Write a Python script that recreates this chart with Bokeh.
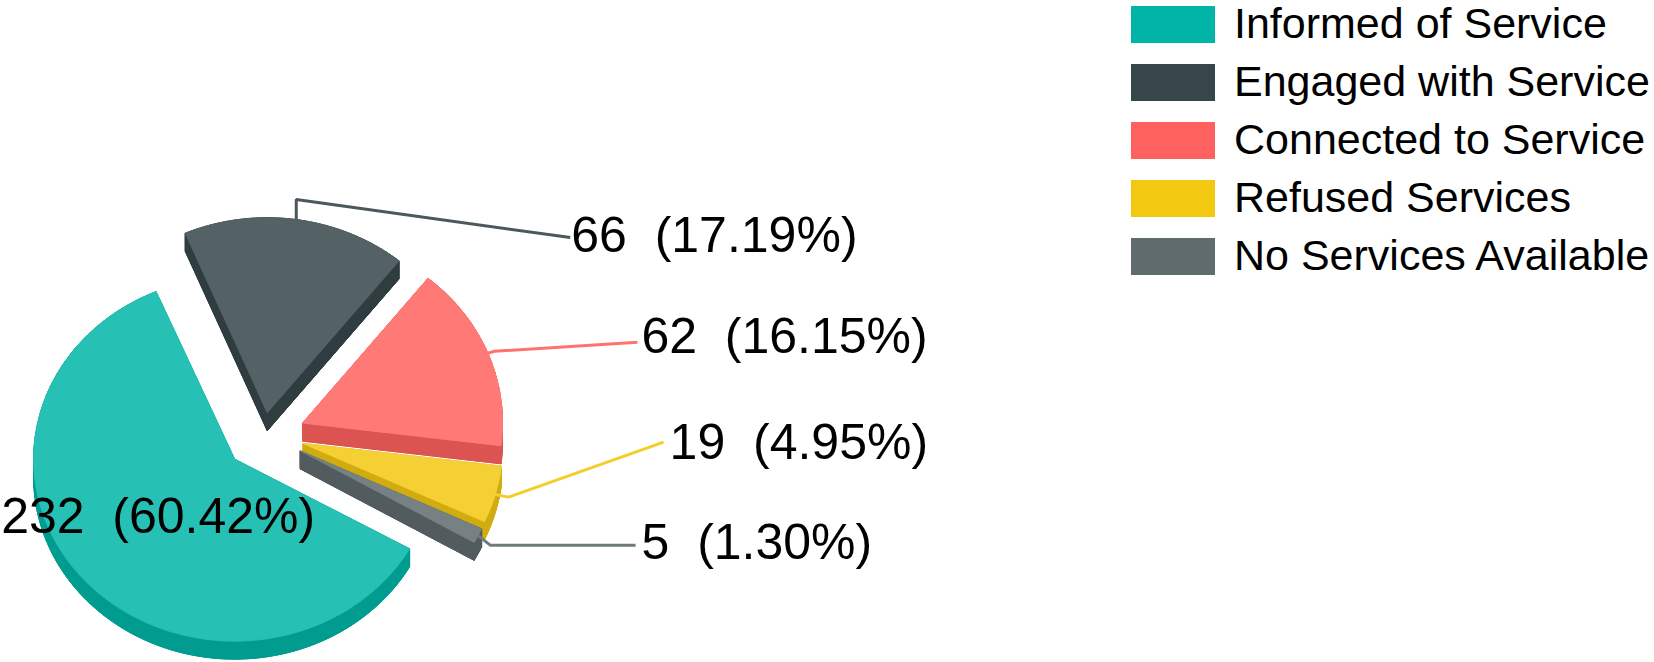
import math
from bokeh.plotting import figure
from bokeh.models import Range1d, Legend, LegendItem
from bokeh.embed import file_html
from bokeh.resources import INLINE
from bokeh.core.properties import value

# ---------------- data ----------------
categories = ["Informed of Service", "Engaged with Service", "Connected to Service",
              "Refused Services", "No Services Available"]
counts = [232, 66, 62, 19, 5]
legend_colors = ["#00B5A7", "#37464A", "#FF625E", "#F2C811", "#5F6B6D"]

# ---------------- layout / style ----------------
W, H = 1654, 662
CX, CY = 264, 432          # pie centre (page pixels)
START_DEG = -29.5          # first slice starts here, slices run clockwise
DEPTH = 18                 # extrusion depth
explode = [40, 20, 41, 40, 40]
nudge = [(0, 0), (0, 0), (0, 6), (0, 0), (0, 0)]
radius_x = [201, 210, 200, 200, 200]
radius_y = [182, 195, 186, 186, 186]
draw_order = [1, 2, 3, 4, 0]
FONT = "Liberation Sans"
LABEL_SIZE = "50px"
LEGEND_SIZE = "43px"
GAP = " \u00a0"            # the wide gap between value and percentage
# leader-line geometry relative to the computed anchor on each slice rim
leader_elbow = {1: (0, -20), 2: (6.6, -2), 3: (13.3, 2.7), 4: (12.5, 9.7)}
leader_end = {1: (274, 18), 2: (149.6, -11), 3: (168.3, -52.3), 4: (157.5, 9.7)}
text_off = {1: (1, -2.5), 2: (4, -6), 3: (6, -0.5), 4: (6, -3)}
inner_label_off = (-6, 0)


def hex2rgb(h):
    h = h.lstrip("#")
    return tuple(int(h[i:i + 2], 16) for i in (0, 2, 4))


def rgb2hex(c):
    return "#%02x%02x%02x" % tuple(max(0, min(255, int(round(v)))) for v in c)


def lighten(h, f):
    r = hex2rgb(h)
    return rgb2hex([v * (1 - f) + 255 * f for v in r])


def darken(h, f):
    r = hex2rgb(h)
    return rgb2hex([v * f for v in r])


total = sum(counts)
fracs = [c / total for c in counts]

p = figure(width=W, height=H, output_backend="svg", toolbar_location=None,
           x_range=Range1d(0, W), y_range=Range1d(H, 0),
           min_border=0, outline_line_color=None)
p.axis.visible = False
p.grid.visible = False
p.background_fill_color = "#ffffff"
p.border_fill_color = "#ffffff"

# slice geometry
slices = []
cum = 0.0
for i, f in enumerate(fracs):
    a0 = START_DEG - cum * 360
    a1 = a0 - f * 360
    cum += f
    mid = math.radians((a0 + a1) / 2)
    ax = CX + explode[i] * math.cos(mid) + nudge[i][0]
    ay = CY - explode[i] * math.sin(mid) + nudge[i][1]
    rx = radius_x[i]
    ry = radius_y[i]
    n = max(4, int(abs(a1 - a0) / 1.5))
    pts = [(ax, ay)]
    for k in range(n + 1):
        a = math.radians(a0 + (a1 - a0) * k / n)
        pts.append((ax + rx * math.cos(a), ay - ry * math.sin(a)))
    slices.append(dict(a0=a0, a1=a1, mid=mid, ax=ax, ay=ay, rx=rx, ry=ry, pts=pts))

for i in draw_order:
    s = slices[i]
    pts = s["pts"]
    side = darken(legend_colors[i], 0.86)
    top = lighten(legend_colors[i], 0.15)
    xs, ys = [], []
    m = len(pts)
    for j in range(m):
        x1, y1 = pts[j]
        x2, y2 = pts[(j + 1) % m]
        xs.append([x1, x2, x2, x1])
        ys.append([y1, y2, y2 + DEPTH, y1 + DEPTH])
    xs.append([q[0] for q in pts])
    ys.append([q[1] + DEPTH for q in pts])
    p.patches(xs, ys, fill_color=side, line_color=side, line_width=1)
    p.patch([q[0] for q in pts], [q[1] for q in pts], fill_color=top,
            line_color=top, line_width=1)

# leader lines and labels
lab_x, lab_y, lab_t = [], [], []
for i in range(1, len(counts)):
    s = slices[i]
    sx = s["ax"] + s["rx"] * math.cos(s["mid"])
    sy = s["ay"] - s["ry"] * math.sin(s["mid"])
    ex, ey = leader_elbow[i]
    tx, ty = leader_end[i]
    p.line([sx, sx + ex, sx + tx], [sy, sy + ey, sy + ty],
           line_color=lighten(legend_colors[i], 0.1), line_width=3)
    ox, oy = text_off[i]
    lab_x.append(sx + tx + ox)
    lab_y.append(sy + ty + oy)
    lab_t.append(f"{counts[i]}{GAP}({fracs[i] * 100:.2f}%)")

p.text(lab_x, lab_y, text=lab_t, text_align="left", text_baseline="middle",
       text_font=value(FONT), text_font_size=LABEL_SIZE, text_color="#000000")

s0 = slices[0]
p.text([s0["ax"] + 0.47 * s0["rx"] * math.cos(s0["mid"]) + inner_label_off[0]],
       [s0["ay"] - 0.47 * s0["ry"] * math.sin(s0["mid"]) + inner_label_off[1]],
       text=[f"{counts[0]}{GAP}({fracs[0] * 100:.2f}%)"], text_align="center",
       text_baseline="middle", text_font=value(FONT), text_font_size=LABEL_SIZE,
       text_color="#000000")

# legend (swatch renderers are zero-area quads at the pie centre)
items = []
for i, cat in enumerate(categories):
    r = p.quad(left=[CX], right=[CX], top=[CY], bottom=[CY],
               fill_color=legend_colors[i], line_color=None)
    items.append(LegendItem(label=cat, renderers=[r]))

legend = Legend(items=items, location=(1120, 382), glyph_width=105, glyph_height=46,
                spacing=9, label_standoff=9, padding=0, margin=0,
                border_line_color=None, background_fill_alpha=0,
                label_text_font=FONT, label_text_font_size=LEGEND_SIZE,
                label_text_color="#000000")
p.add_layout(legend)

open("out.html", "w").write(file_html(p, INLINE))
